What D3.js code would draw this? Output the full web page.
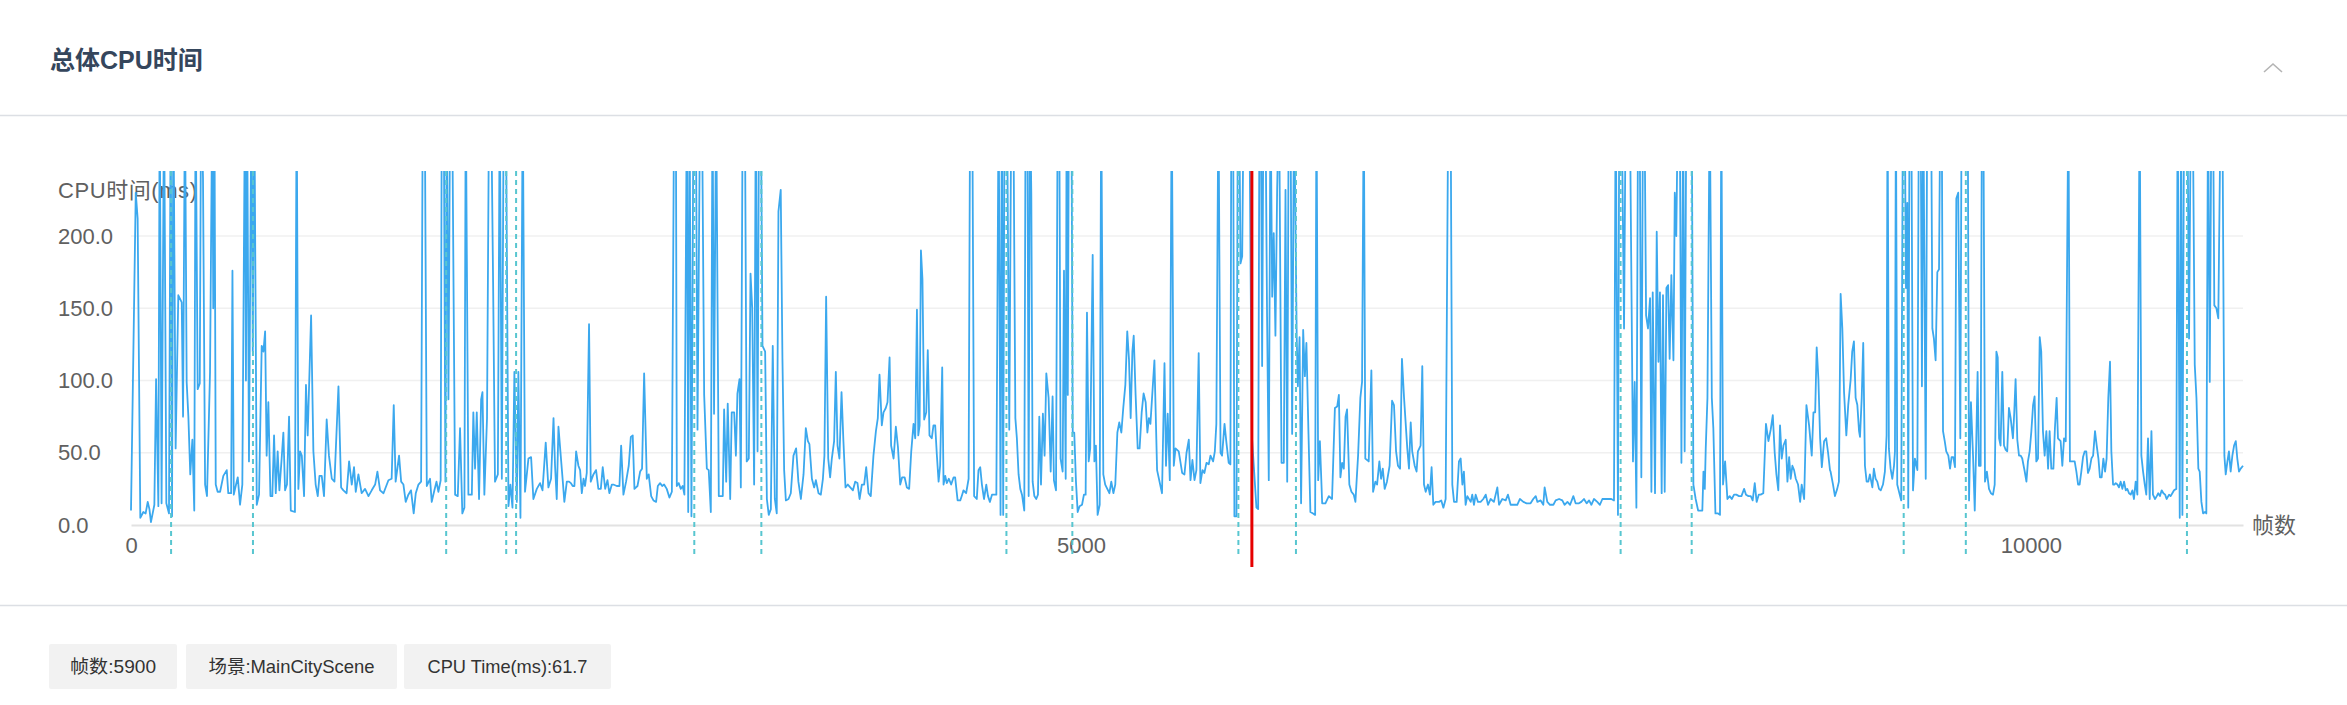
<!DOCTYPE html>
<html>
<head>
<meta charset="utf-8">
<script src="https://cdn.jsdelivr.net/npm/d3@7"></script>
<style>
  body { margin: 0; background: #fff; overflow: hidden; }
  svg { display: block; font-family: "Liberation Sans", Arial, "Noto Sans CJK SC", sans-serif; }
</style>
</head>
<body>
<svg id="Chart"></svg>
<script>

// frame / cpu ms. 300 = off the top of the chart
const cpuPart1 = [[0,10],[25,230],[35,212],[49,5],[65,9],[77,8],[88,16],[97,11],[105,2],[123,14],[132,101],[144,13],[151,300],[161,15],[174,300],[186,15],[200,8],[209,300],[216,6],[223,300],[235,53],[249,159],[267,154],[274,75],[284,300],[293,99],[302,75],[312,35],[323,59],[333,10],[340,300],[351,94],[362,98],[369,300],[379,240],[390,28],[400,20],[416,106],[428,300],[433,150],[439,300],[446,28],[456,23],[469,23],[486,34],[504,38],[512,22],[527,22],[534,176],[541,21],[553,28],[562,33],[574,14],[586,28],[600,300],[605,100],[611,300],[621,44],[634,300],[641,120],[649,300],[662,14],[674,21],[688,124],[697,120],[706,134],[714,48],[723,85],[734,20],[744,20],[753,62],[762,22],[772,51],[781,24],[793,46],[802,64],[811,24],[821,28],[832,75],[841,10],[863,9],[872,300],[881,25],[890,51],[899,48],[911,20],[921,97],[930,62],[948,145],[960,51],[972,28],[983,20],[992,34],[1004,34],[1016,20],[1030,73],[1042,48],[1057,32],[1071,30],[1092,96],[1106,26],[1118,24],[1135,22],[1148,44],[1162,28],[1174,40],[1183,23],[1197,35],[1214,22],[1232,25],[1250,20],[1267,24],[1285,28],[1297,37],[1311,24],[1329,22],[1355,31],[1372,32],[1383,83],[1393,30],[1411,48],[1422,30],[1434,28],[1446,16],[1460,21],[1474,24],[1488,8],[1499,22],[1513,28],[1527,30],[1536,300],[1546,300],[1557,27],[1574,32],[1583,16],[1597,24],[1608,30],[1618,23],[1630,31],[1636,300],[1646,300],[1655,30],[1662,300],[1671,87],[1680,300],[1690,300],[1706,21],[1720,20],[1732,67],[1744,8],[1755,12],[1762,300],[1776,21],[1794,21],[1802,78],[1811,39],[1820,78],[1832,18],[1843,87],[1850,92],[1860,21],[1874,74],[1885,300],[1895,300],[1906,168],[1916,30],[1931,35],[1941,300],[1952,32],[1962,300],[1973,300],[1987,13],[1997,28],[2008,12],[2018,106],[2031,16],[2039,106],[2050,5],[2062,300],[2074,23],[2092,46],[2106,47],[2118,18],[2136,25],[2153,29],[2166,24],[2183,57],[2197,26],[2211,32],[2224,74],[2232,41]];

const cpuPart2 = [[2241,18],[2250,68],[2262,48],[2273,30],[2281,16],[2294,30],[2306,30],[2315,29],[2325,27],[2334,27],[2343,51],[2355,41],[2364,38],[2373,22],[2382,32],[2390,27],[2399,36],[2411,139],[2420,30],[2434,35],[2448,38],[2460,25],[2473,25],[2483,40],[2496,25],[2508,31],[2518,22],[2531,28],[2539,28],[2557,27],[2571,27],[2580,55],[2592,21],[2606,30],[2620,41],[2631,61],[2641,62],[2650,25],[2666,27],[2680,37],[2690,39],[2701,105],[2715,32],[2725,35],[2738,20],[2750,17],[2764,16],[2773,27],[2785,29],[2796,27],[2806,28],[2820,25],[2834,19],[2847,23],[2859,300],[2868,300],[2873,27],[2883,29],[2894,25],[2904,27],[2913,21],[2926,300],[2933,9],[2940,300],[2950,6],[2961,300],[2973,300],[2982,66],[2996,300],[3005,300],[3017,90],[3031,39],[3041,38],[3052,9],[3061,300],[3069,77],[3080,300],[3094,20],[3105,20],[3115,20],[3122,80],[3133,30],[3141,84],[3154,18],[3162,78],[3175,78],[3184,48],[3192,91],[3203,101],[3210,26],[3220,300],[3231,300],[3241,44],[3252,46],[3261,174],[3270,150],[3280,28],[3289,300],[3298,51],[3306,300],[3315,300],[3324,124],[3338,120],[3347,18],[3357,7],[3368,11],[3378,124],[3389,18],[3399,8],[3408,217],[3420,232],[3429,115],[3438,38],[3447,17],[3461,18],[3473,22],[3487,48],[3501,53],[3513,30],[3526,18],[3540,35],[3552,67],[3563,58],[3571,56],[3584,32],[3596,26],[3605,31],[3619,22],[3631,21],[3642,32],[3650,48],[3659,158],[3670,46],[3680,33],[3689,46],[3701,58],[3710,106],[3719,55],[3729,46],[3740,92],[3750,58],[3761,26],[3773,28],[3786,26],[3800,24],[3812,30],[3824,29],[3835,18],[3847,28],[3859,28],[3870,40],[3882,22],[3894,20],[3908,48],[3921,65],[3931,74],[3940,104],[3952,69],[3961,78],[3973,81],[3982,85],[3993,116],[4001,55],[4014,46],[4026,68],[4037,54],[4049,28],[4059,33],[4072,33],[4084,26],[4096,25],[4107,51],[4119,70],[4128,60],[4137,149],[4144,62],[4151,69],[4158,190],[4166,170],[4175,73],[4186,78],[4194,121],[4203,62],[4215,60],[4224,69],[4233,69],[4242,48],[4251,30],[4259,41],[4270,109],[4277,28],[4286,34],[4294,29],[4305,32],[4317,28],[4330,33],[4338,33],[4351,17],[4365,17],[4375,21],[4382,24],[4396,22],[4409,32],[4417,300],[4428,300],[4438,20],[4452,18],[4461,38],[4470,40]];

const cpuPart3 = [[4479,28],[4490,18],[4502,28],[4511,20],[4521,16],[4532,21],[4555,21],[4567,300],[4577,7],[4584,300],[4591,7],[4598,300],[4611,300],[4623,66],[4634,300],[4644,300],[4655,74],[4663,60],[4672,35],[4681,25],[4690,21],[4702,10],[4709,300],[4718,300],[4725,20],[4732,300],[4739,229],[4746,30],[4755,20],[4765,18],[4774,21],[4781,75],[4790,28],[4800,77],[4809,48],[4818,105],[4830,88],[4841,37],[4851,89],[4858,31],[4869,24],[4878,300],[4886,300],[4893,46],[4904,37],[4911,176],[4920,32],[4925,300],[4931,90],[4937,300],[4950,300],[4957,64],[4965,64],[4974,30],[4983,9],[4993,13],[5006,14],[5016,21],[5025,21],[5032,147],[5041,44],[5049,53],[5062,187],[5071,44],[5079,55],[5088,7],[5099,14],[5107,300],[5118,35],[5128,28],[5139,25],[5150,22],[5160,30],[5171,22],[5181,28],[5192,64],[5202,71],[5213,64],[5223,81],[5234,97],[5244,134],[5253,115],[5262,74],[5271,120],[5278,131],[5288,90],[5299,53],[5309,53],[5320,78],[5330,91],[5341,85],[5350,64],[5358,74]];

const cpuPart4 = [[5366,70],[5387,114],[5401,38],[5427,22],[5440,112],[5448,41],[5457,77],[5468,31],[5478,300],[5489,41],[5498,53],[5515,51],[5533,36],[5545,35],[5556,50],[5568,59],[5577,31],[5587,45],[5598,31],[5608,38],[5620,119],[5629,29],[5640,38],[5650,36],[5661,43],[5673,42],[5682,48],[5696,44],[5705,51],[5713,70],[5724,300],[5735,50],[5743,48],[5756,70],[5766,57],[5778,43],[5787,42],[5792,300],[5801,300],[5808,6],[5819,6],[5826,300],[5833,300],[5840,181],[5849,186],[5857,300],[5886,300],[5900,61.7],[5924,12],[5933,11],[5940,300],[5947,300],[5954,110],[5961,300],[5971,300],[5980,144],[5989,31],[5998,300],[6007,158],[6015,202],[6024,131],[6033,232],[6043,300],[6056,43],[6068,43],[6077,232],[6086,30],[6094,300],[6103,300],[6112,63],[6122,300],[6136,130],[6142,96],[6151,130],[6159,15],[6170,135],[6179,103],[6187,126],[6198,63],[6208,9],[6222,8],[6233,7],[6240,300],[6249,31],[6258,58],[6270,15],[6287,15],[6305,20],[6322,18],[6337,81],[6349,82],[6358,90],[6366,33],[6375,43],[6384,39],[6393,75],[6401,80],[6413,28],[6424,23],[6436,21],[6445,16],[6459,48],[6471,88],[6480,99],[6489,300],[6497,46],[6515,44],[6529,107],[6538,23],[6550,30],[6559,28],[6571,44],[6580,32],[6589,39],[6599,25],[6611,30],[6625,41],[6638,86],[6648,83],[6659,51],[6669,41],[6680,39],[6690,115],[6701,88]];

const cpuPart5 = [[6718,53],[6727,39],[6736,71],[6744,51],[6757,41],[6767,37],[6774,51],[6788,55],[6797,110],[6806,28],[6815,23],[6827,28],[6837,21],[6846,40],[6855,14],[6867,16],[6885,16],[6897,17],[6908,12],[6920,18],[6934,300],[6946,300],[6955,28],[6964,16],[6978,16],[6990,44],[6999,46],[7008,28],[7016,37],[7025,14],[7034,20],[7052,16],[7060,21],[7069,14],[7078,21],[7090,16],[7104,16],[7118,18],[7131,21],[7143,14],[7157,18],[7174,16],[7192,26],[7201,14],[7218,18],[7236,17],[7248,21],[7262,14],[7280,14],[7297,14],[7311,18],[7329,16],[7346,15],[7367,15],[7381,18],[7394,20],[7403,16],[7420,17],[7434,14],[7441,26],[7455,16],[7469,14],[7487,14],[7499,17],[7517,18],[7534,17],[7546,14],[7561,16],[7575,14],[7592,20],[7604,15],[7622,15],[7634,16],[7648,18],[7662,15],[7675,17],[7687,14],[7701,18],[7718,16],[7732,14],[7745,18],[7762,18],[7780,18],[7792,18],[7806,17],[7815,300],[7827,7],[7834,300],[7846,300],[7859,136],[7868,300],[7878,300],[7889,300],[7906,44],[7915,99],[7924,12],[7933,300],[7941,300],[7950,33],[7959,300],[7966,300],[7975,145],[7985,136],[7996,157],[8003,23],[8010,161],[8022,22],[8031,203],[8040,113],[8048,161],[8057,22],[8064,159],[8073,23],[8082,164],[8091,166],[8099,115],[8108,173],[8119,114],[8126,230],[8134,200],[8143,300],[8152,300],[8161,43],[8170,300],[8178,51],[8187,300],[8203,300],[8215,300],[8224,28],[8236,18],[8249,10],[8263,10],[8271,10],[8277,37],[8284,25],[8289,53],[8298,88],[8310,300],[8321,88],[8329,67],[8340,8],[8354,8],[8364,7],[8371,300],[8380,28],[8391,44],[8403,18],[8415,20],[8426,18],[8438,21],[8450,21],[8464,20],[8477,20],[8491,25],[8501,21],[8514,20],[8526,20],[8536,17],[8547,29],[8557,16],[8568,21],[8578,21],[8592,22],[8606,70],[8619,58],[8631,66],[8642,76],[8652,50],[8661,35],[8671,24],[8680,69],[8689,46],[8698,55],[8710,59],[8719,30],[8728,47],[8736,32],[8745,41],[8754,38],[8763,32],[8775,28],[8786,16],[8794,28],[8807,18],[8819,83],[8833,69],[8847,48],[8856,78],[8865,78],[8873,123],[8882,101],[8891,60],[8900,40],[8912,58],[8923,60],[8933,50],[8943,38]];

const cpuPart6 = [[8946,37],[8959,28],[8969,20],[8981,25],[8990,30],[8999,160],[9008,136],[9017,92],[9029,62],[9039,83],[9052,101],[9060,120],[9069,127],[9078,88],[9087,83],[9096,65],[9101,61],[9110,88],[9118,126],[9127,41],[9136,30],[9145,30],[9153,35],[9166,26],[9174,39],[9183,32],[9192,30],[9201,25],[9210,24],[9222,28],[9232,37],[9241,62],[9246,300],[9253,53],[9262,39],[9271,32],[9280,41],[9285,51],[9290,300],[9297,28],[9310,21],[9318,17],[9327,300],[9336,300],[9343,164],[9350,223],[9355,12],[9362,300],[9371,300],[9380,24],[9390,46],[9403,38],[9411,300],[9420,300],[9427,96],[9434,300],[9447,32],[9455,300],[9464,300],[9475,300],[9482,136],[9490,129],[9499,114],[9508,175],[9517,177],[9524,300],[9531,300],[9538,65],[9547,58],[9555,51],[9566,48],[9575,39],[9583,47],[9592,47],[9601,40],[9608,226],[9618,230],[9629,60],[9636,300],[9647,300],[9657,300],[9668,300],[9675,17],[9685,85],[9696,48],[9705,10],[9713,58],[9720,106],[9727,41],[9736,41],[9743,300],[9750,300],[9759,30],[9769,37],[9780,25],[9790,22],[9801,21],[9810,28],[9819,120],[9826,116],[9833,60],[9841,55],[9850,106],[9859,55],[9868,52],[9876,51],[9885,81],[9894,74],[9906,60],[9913,78],[9920,101],[9929,59],[9938,48],[9947,48],[9955,46],[9968,37],[9977,30],[9985,44],[9994,51],[10003,65],[10012,83],[10020,89],[10029,44],[10038,46],[10047,130],[10055,120],[10064,65],[10073,48],[10082,65],[10091,39],[10099,65],[10108,39],[10119,39],[10127,67],[10136,88],[10143,60],[10157,58],[10166,41],[10175,60],[10184,58],[10198,300],[10206,44],[10219,44],[10231,44],[10240,37],[10249,28],[10257,28],[10266,37],[10275,47],[10284,51],[10292,51],[10301,36],[10310,39],[10319,46],[10328,48],[10338,65],[10347,55],[10356,46],[10364,33],[10373,33],[10382,46],[10391,37],[10399,46],[10408,88],[10417,113],[10424,51],[10433,28],[10440,28],[10447,29],[10456,28],[10464,26],[10473,30],[10482,25],[10491,30],[10500,24],[10508,25],[10517,22],[10526,21],[10535,24],[10543,18],[10552,30],[10561,21],[10573,300],[10582,48],[10591,37],[10600,28],[10608,21],[10617,60],[10626,18],[10635,65],[10643,21],[10654,18],[10663,20],[10671,22],[10680,20],[10689,24],[10698,22],[10707,21],[10715,18],[10728,21],[10736,20],[10745,22],[10754,24],[10766,25],[10773,300],[10784,5],[10791,300],[10798,7],[10807,300],[10824,300],[10833,129],[10843,300],[10852,300],[10863,111],[10872,88],[10882,39],[10889,37],[10898,16],[10907,8],[10917,9],[10924,8],[10933,300],[10942,99],[10951,300],[10959,300],[10966,152],[10977,150],[10987,143],[11000,300],[11008,300],[11019,48],[11026,35],[11035,44],[11043,51],[11052,37],[11061,48],[11070,55],[11079,58],[11087,46],[11096,37],[11105,39],[11117,41]];

// scene change frames (dashed) and the selected frame (red)
const sceneFrames = [211, 642, 1659, 1975, 2027, 2965, 3318, 4608, 4955, 5829, 6132, 7841, 8215, 9331, 9658, 10822];
const selectedFrame = 5900;

const yTicks = [0, 50, 100, 150, 200];
const xTicks = [0, 5000, 10000];
const infoTags = ["帧数:5900", "场景:MainCityScene", "CPU Time(ms):61.7"];

const cpuData = cpuPart1.concat(cpuPart2, cpuPart3, cpuPart4, cpuPart5, cpuPart6);

const WidthTotal = 2347;
const HeightTotal = 705;
const Left = 131, Right = 2243, Top = 171, Bottom = 525;

const svg = d3.select("#Chart")
  .attr("width", WidthTotal)
  .attr("height", HeightTotal);

// header
svg.append("text")
  .attr("x", 50).attr("y", 69)
  .attr("font-size", 25).attr("font-weight", "bold")
  .attr("fill", "#35465c")
  .text("总体CPU时间");

svg.append("path")
  .attr("d", "M2264,72 L2273,64 L2282,72")
  .attr("fill", "none").attr("stroke", "#b4b4b4").attr("stroke-width", 1.6);

svg.append("line")
  .attr("x1", 0).attr("x2", WidthTotal).attr("y1", 115.5).attr("y2", 115.5)
  .attr("stroke", "#dcdfe4").attr("stroke-width", 1.5);

svg.append("line")
  .attr("x1", 0).attr("x2", WidthTotal).attr("y1", 605.5).attr("y2", 605.5)
  .attr("stroke", "#dcdfe4").attr("stroke-width", 1.5);

// scales
const x = d3.scaleLinear()
  .domain([0, d3.max(cpuData, d => d[0])])
  .range([Left, Right]);

const y = d3.scaleLinear()
  .domain([0, 245])
  .range([Bottom, Top]);

// grid
svg.append("g")
  .selectAll("line")
  .data(yTicks.filter(d => d > 0))
  .enter()
  .append("line")
   .attr("x1", Left).attr("x2", Right)
   .attr("y1", d => y(d)).attr("y2", d => y(d))
   .attr("stroke", "#f0f0f0").attr("stroke-width", 1.5);

// y labels (left aligned)
const yAxis = svg.append("g")
  .attr("transform", "translate(58,0)")
  .call(d3.axisRight(y).tickValues(yTicks).tickSize(0).tickPadding(0).tickFormat(d3.format(".1f")));
yAxis.select(".domain").remove();
yAxis.selectAll("text")
  .attr("font-size", 22).attr("fill", "#606060")
  .attr("font-family", "Liberation Sans, Arial, sans-serif");

// x axis
const xAxis = svg.append("g")
  .attr("transform", `translate(0,${Bottom})`)
  .call(d3.axisBottom(x).tickValues(xTicks).tickSize(0).tickPadding(12).tickFormat(d3.format("d")));
xAxis.select(".domain").attr("stroke", "#e2e2e2").attr("stroke-width", 2);
xAxis.selectAll("text")
  .attr("font-size", 22).attr("fill", "#606060")
  .attr("font-family", "Liberation Sans, Arial, sans-serif");

svg.append("text")
  .attr("x", 58).attr("y", 198)
  .attr("font-size", 22).attr("fill", "#606060")
  .attr("textLength", 139)
  .text("CPU时间(ms)");

svg.append("text")
  .attr("x", 2252).attr("y", 533)
  .attr("font-size", 22).attr("fill", "#606060")
  .text("帧数");

// the line
svg.append("clipPath").attr("id", "plotClip")
  .append("rect")
   .attr("x", Left - 2).attr("y", Top)
   .attr("width", Right - Left + 4).attr("height", 420);

const line = d3.line()
  .x(d => x(d[0]))
  .y(d => y(d[1]));

svg.append("path")
  .datum(cpuData)
  .attr("clip-path", "url(#plotClip)")
  .attr("d", line)
  .attr("fill", "none")
  .attr("stroke", "#3ba8ee")
  .attr("stroke-width", 1.8)
  .attr("stroke-linejoin", "round");

// scene markers
svg.append("g")
  .selectAll("line")
  .data(sceneFrames)
  .enter()
  .append("line")
   .attr("x1", d => x(d)).attr("x2", d => x(d))
   .attr("y1", Top).attr("y2", 557)
   .attr("stroke", "#58c6d0")
   .attr("stroke-width", 2)
   .attr("stroke-dasharray", "5,4");

svg.append("line")
  .attr("x1", x(selectedFrame)).attr("x2", x(selectedFrame))
  .attr("y1", Top).attr("y2", 567)
  .attr("stroke", "#e60000")
  .attr("stroke-width", 3);

// info tags at the bottom: left, width, text width
const tagBox = [[49, 128, 86], [186, 211, 166], [404, 207, 160]];

const tags = svg.append("g")
  .selectAll("g")
  .data(infoTags)
  .enter()
  .append("g")
   .attr("transform", (d, i) => `translate(${tagBox[i][0]},644)`);

tags.append("rect")
  .attr("width", (d, i) => tagBox[i][1])
  .attr("height", 45)
  .attr("rx", 2)
  .attr("fill", "#f2f2f2");

tags.append("text")
  .attr("x", (d, i) => tagBox[i][1] / 2)
  .attr("y", 29)
  .attr("text-anchor", "middle")
  .attr("font-size", 18.5)
  .attr("fill", "#333")
  .attr("textLength", (d, i) => tagBox[i][2])
  .attr("lengthAdjust", "spacingAndGlyphs")
  .text(d => d);

</script>
</body>
</html>
